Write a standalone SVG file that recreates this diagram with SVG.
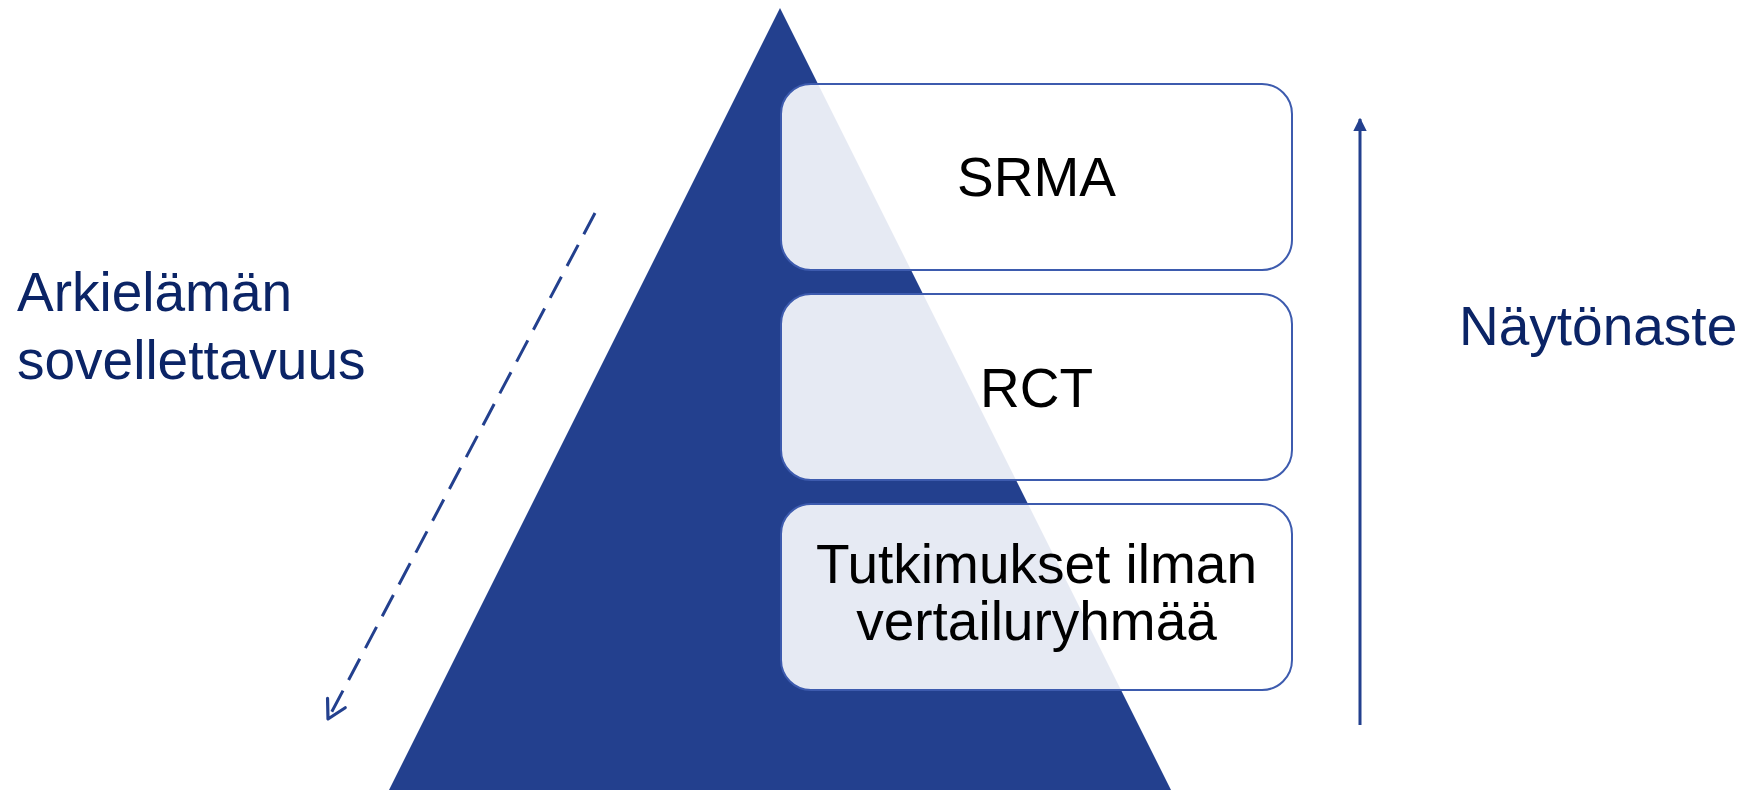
<svg xmlns="http://www.w3.org/2000/svg" width="1750" height="790" viewBox="0 0 1750 790">
  <defs>
    <style>
      .box { fill: #ffffff; fill-opacity: 0.89; stroke: #3D5BAE; stroke-width: 2; }
      .boxtext { font-family: "Liberation Sans", Arial, sans-serif; font-size: 55px; fill: #000000; text-anchor: middle; }
      .side { font-family: "Liberation Sans", Arial, sans-serif; font-size: 55px; fill: #0B2466; }
      .conn { stroke: #23408E; stroke-width: 3; fill: none; }
    </style>
    <marker id="tri" viewBox="0 0 10 10" refX="9" refY="5" markerWidth="4.5" markerHeight="4.5" orient="auto" markerUnits="strokeWidth">
      <path d="M0,0 L10,5 L0,10 z" fill="#23408E"/>
    </marker>
    <marker id="open" viewBox="0 0 12 12" refX="10" refY="6" markerWidth="8" markerHeight="8" orient="auto" markerUnits="strokeWidth">
      <path d="M1,1 L10,6 L1,11" fill="none" stroke="#23408E" stroke-width="1.6" stroke-linecap="round" stroke-linejoin="round"/>
    </marker>
  </defs>
  <rect width="1750" height="790" fill="#ffffff"/>
  <g id="pyramid">
    <polygon points="780,8 388,792 1172,792" fill="#23408E"/>
  </g>
  <g id="node-srma">
    <rect class="box" x="781" y="84" width="511" height="186" rx="30" ry="30"/>
    <text class="boxtext" x="1036.5" y="196">SRMA</text>
  </g>
  <g id="node-rct">
    <rect class="box" x="781" y="294" width="511" height="186" rx="30" ry="30"/>
    <text class="boxtext" x="1036.5" y="407">RCT</text>
  </g>
  <g id="node-tutkimukset">
    <rect class="box" x="781" y="504" width="511" height="186" rx="30" ry="30"/>
    <text class="boxtext" x="1036.5" y="583">Tutkimukset ilman</text>
    <text class="boxtext" x="1036.5" y="640">vertailuryhmää</text>
  </g>
  <g id="label-left">
    <text class="side" x="17" y="311">Arkielämän</text>
    <text class="side" x="17" y="379">sovellettavuus</text>
  </g>
  <g id="label-right">
    <text class="side" x="1459" y="345">Näytönaste</text>
  </g>
  <g id="connectors">
    <line class="conn" x1="595" y1="213" x2="328" y2="719" stroke-dasharray="24 12" marker-end="url(#open)"/>
    <line class="conn" x1="1360" y1="725" x2="1360" y2="119" marker-end="url(#tri)"/>
  </g>
</svg>
